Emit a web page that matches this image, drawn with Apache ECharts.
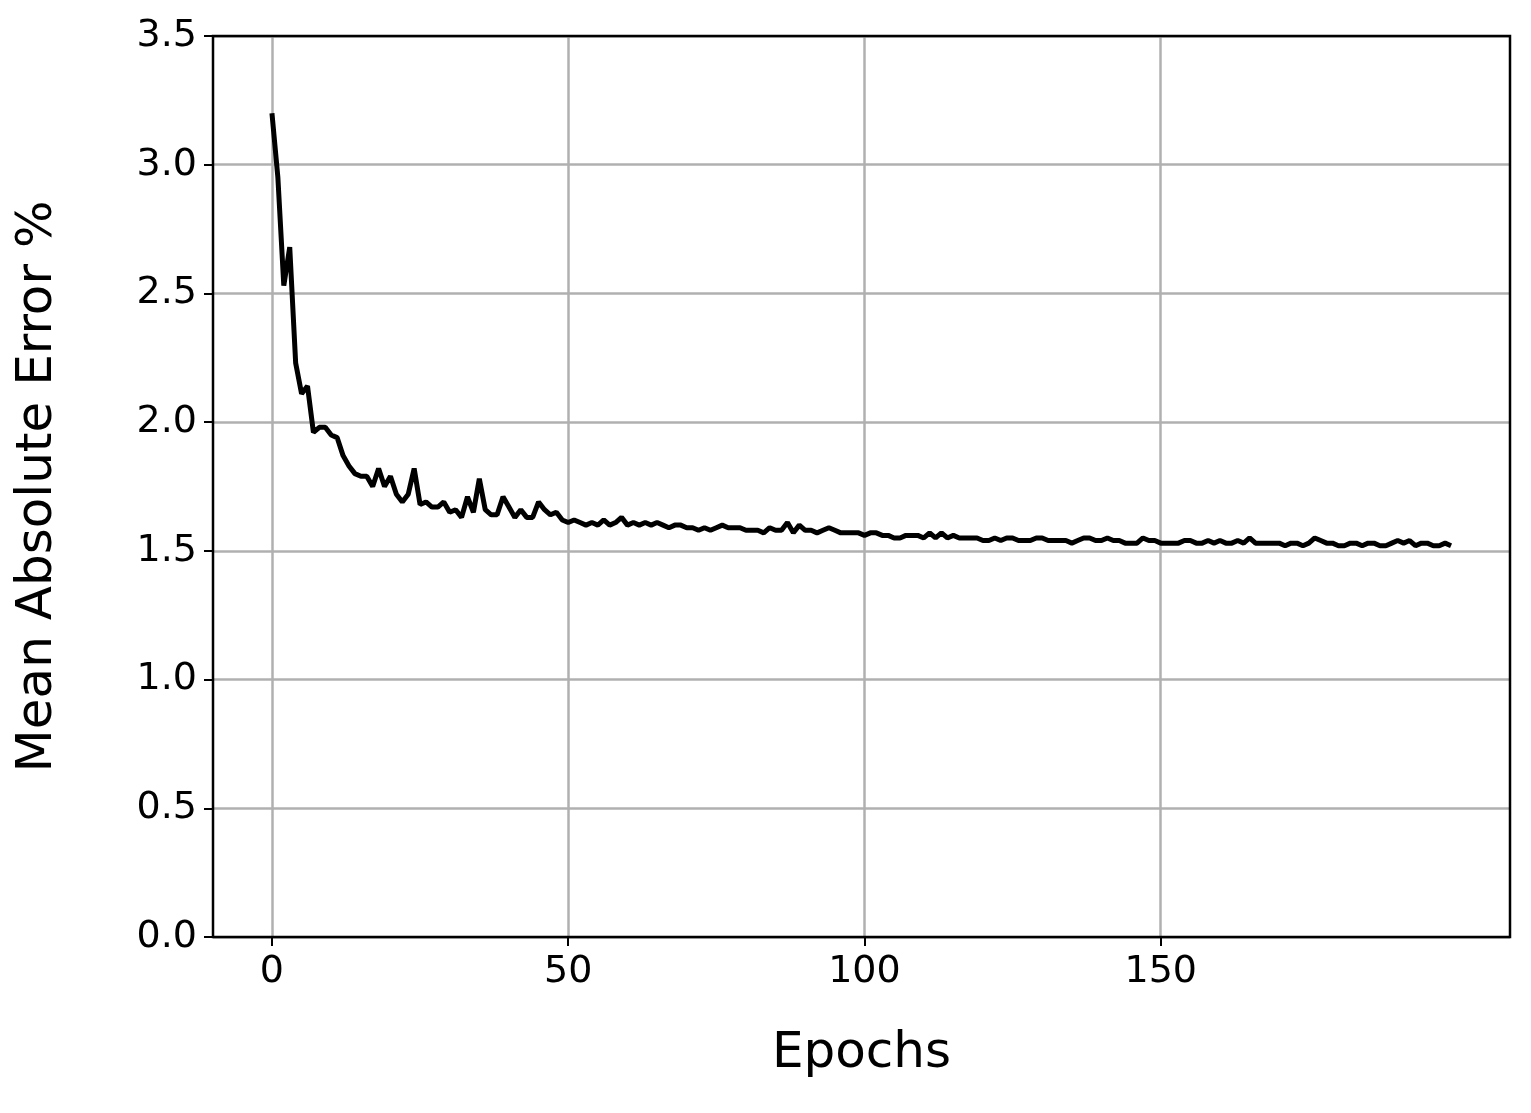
<!DOCTYPE html>
<html><head><meta charset="utf-8">
<script src="https://cdn.jsdelivr.net/npm/echarts@6/dist/echarts.min.js"></script>
<style>html,body{margin:0;padding:0;background:#fff}#c{width:1531px;height:1113px}</style>
</head><body><div id="c"></div>
<script>
const epochs = Array.from({length:200},(_,i)=>i);
const mae = [
3.20,2.95,2.53,2.68,2.23,2.11,2.14,1.96,1.98,1.98,
1.95,1.94,1.87,1.83,1.80,1.79,1.79,1.75,1.82,1.75,
1.79,1.72,1.69,1.72,1.82,1.68,1.69,1.67,1.67,1.69,
1.65,1.66,1.63,1.71,1.65,1.78,1.66,1.64,1.64,1.71,
1.67,1.63,1.66,1.63,1.63,1.69,1.66,1.64,1.65,1.62,
1.61,1.62,1.61,1.60,1.61,1.60,1.62,1.60,1.61,1.63,
1.60,1.61,1.60,1.61,1.60,1.61,1.60,1.59,1.60,1.60,
1.59,1.59,1.58,1.59,1.58,1.59,1.60,1.59,1.59,1.59,
1.58,1.58,1.58,1.57,1.59,1.58,1.58,1.61,1.57,1.60,
1.58,1.58,1.57,1.58,1.59,1.58,1.57,1.57,1.57,1.57,
1.56,1.57,1.57,1.56,1.56,1.55,1.55,1.56,1.56,1.56,
1.55,1.57,1.55,1.57,1.55,1.56,1.55,1.55,1.55,1.55,
1.54,1.54,1.55,1.54,1.55,1.55,1.54,1.54,1.54,1.55,
1.55,1.54,1.54,1.54,1.54,1.53,1.54,1.55,1.55,1.54,
1.54,1.55,1.54,1.54,1.53,1.53,1.53,1.55,1.54,1.54,
1.53,1.53,1.53,1.53,1.54,1.54,1.53,1.53,1.54,1.53,
1.54,1.53,1.53,1.54,1.53,1.55,1.53,1.53,1.53,1.53,
1.53,1.52,1.53,1.53,1.52,1.53,1.55,1.54,1.53,1.53,
1.52,1.52,1.53,1.53,1.52,1.53,1.53,1.52,1.52,1.53,
1.54,1.53,1.54,1.52,1.53,1.53,1.52,1.52,1.53,1.52
];
const xTicks = [0,50,100,150];
const chart = echarts.init(document.getElementById('c'));
const font = 'DejaVu Sans';
chart.setOption({
  animation:false,
  grid:{left:213,top:36,width:1297,height:901,show:true,borderColor:'#000',borderWidth:2.5,z:10},
  xAxis:{type:'value',min:-9.95,max:208.95,
    name:'Epochs',nameLocation:'middle',nameGap:92,nameTextStyle:{fontFamily:font,fontSize:50,color:'#000'},
    axisLine:{show:false,onZero:false},
    axisTick:{show:true,length:9,lineStyle:{color:'#000',width:2},customValues:xTicks},
    axisLabel:{fontFamily:font,fontSize:38,color:'#000',margin:16,customValues:xTicks,formatter:v=>String(v)},
    splitLine:{show:false}},
  yAxis:{type:'value',min:0,max:3.5,interval:0.5,
    name:'Mean Absolute Error %',nameLocation:'middle',nameGap:150,nameTextStyle:{fontFamily:font,fontSize:50,color:'#000'},
    axisLine:{show:false,onZero:false},axisTick:{show:true,length:9,lineStyle:{color:'#000',width:2}},
    axisLabel:{fontFamily:font,fontSize:38,color:'#000',margin:16,formatter:v=>v.toFixed(1)},
    splitLine:{show:true,lineStyle:{color:'#b0b0b0',width:2.5}}},
  series:[{type:'line',data:epochs.map((e,i)=>[e,mae[i]]),showSymbol:false,
    lineStyle:{color:'#000',width:5},z:5,
    markLine:{silent:true,symbol:'none',label:{show:false},animation:false,
      lineStyle:{color:'#b0b0b0',width:2.5,type:'solid'},z:1,
      data:xTicks.map(v=>({xAxis:v}))}}]
});
</script></body></html>
